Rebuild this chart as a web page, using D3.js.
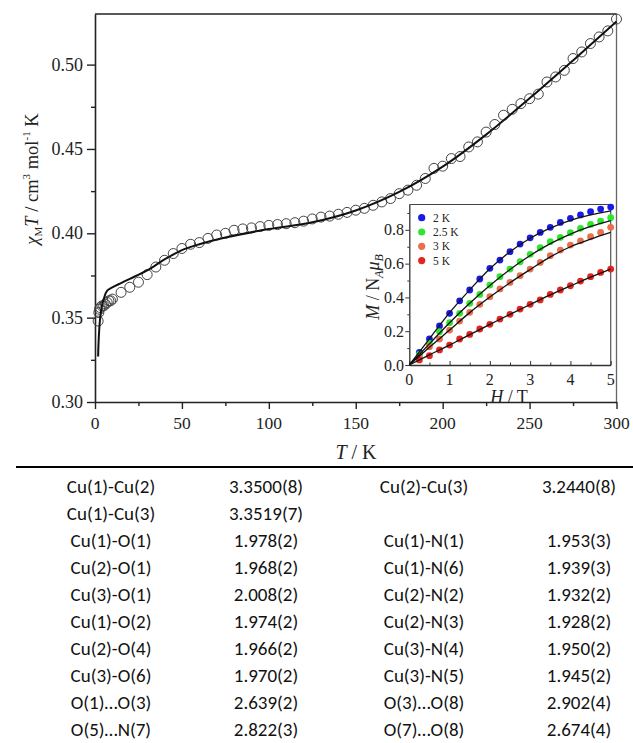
<!DOCTYPE html>
<html><head><meta charset="utf-8">
<script src="https://cdn.jsdelivr.net/npm/d3@7"></script>
<style>body{margin:0;background:#fff}svg{display:block}</style>
</head><body><svg id="c" width="633" height="743"></svg>
<script>
// ---------- main chart data ----------
const tempK = [1.8, 2.2, 2.6, 3, 4, 5, 6, 7, 8, 9, 10,
  15, 20, 25, 30, 35, 40, 45, 50, 55, 60, 65, 70, 75, 80, 85, 90, 95, 100,
  105, 110, 115, 120, 125, 130, 135, 140, 145, 150, 155, 160, 165, 170, 175, 180,
  185, 190, 195, 200, 205, 210, 215, 220, 225, 230, 235, 240, 245, 250, 255, 260,
  265, 270, 275, 280, 285, 290, 295, 300];
const chiMT = [0.348, 0.353, 0.355, 0.356, 0.357, 0.357, 0.358, 0.359, 0.360, 0.360, 0.361,
  0.365, 0.368, 0.371, 0.3755, 0.380, 0.384, 0.388, 0.391, 0.3935, 0.3945, 0.397, 0.399, 0.400, 0.4018, 0.4026, 0.4032, 0.404, 0.4047,
  0.4052, 0.4057, 0.4063, 0.4072, 0.4085, 0.4096, 0.4102, 0.4113, 0.4124, 0.4137, 0.4148, 0.4166, 0.4186, 0.4206, 0.4235, 0.4256,
  0.4285, 0.4325, 0.4385, 0.4398, 0.4443, 0.4455, 0.4512, 0.4542, 0.460, 0.4645, 0.470, 0.4735, 0.4769, 0.4798, 0.4825, 0.4897,
  0.4927, 0.4966, 0.5036, 0.5075, 0.5125, 0.5164, 0.5200, 0.5270];
const fitT = [1.8, 2, 2.5, 3, 4, 5, 7, 10, 15, 20, 30, 40, 50, 60, 75, 100, 125, 150, 175, 200, 225, 250, 275, 300];
const fitChiMT = [0.327, 0.334, 0.344, 0.350, 0.357, 0.361, 0.366, 0.368, 0.3705, 0.373, 0.378, 0.3845, 0.390, 0.3935, 0.3975, 0.4025, 0.4065, 0.4135, 0.4245, 0.4395, 0.4585, 0.480, 0.5025, 0.5255];
const mainXTicks = [0, 50, 100, 150, 200, 250, 300];
const mainYTicks = [0.30, 0.35, 0.40, 0.45, 0.50];

// ---------- inset data ----------
const fieldH = [0.25, 0.5, 0.75, 1, 1.25, 1.5, 1.75, 2, 2.25, 2.5, 2.75, 3, 3.25, 3.5, 3.75, 4, 4.25, 4.5, 4.75, 5];
const mag2K  = [0.075, 0.154, 0.231, 0.306, 0.380, 0.444, 0.509, 0.572, 0.621, 0.671, 0.716, 0.753, 0.785, 0.815, 0.844, 0.868, 0.888, 0.907, 0.923, 0.935];
const mag25K = [0.063, 0.128, 0.197, 0.250, 0.306, 0.365, 0.418, 0.473, 0.523, 0.568, 0.611, 0.655, 0.694, 0.730, 0.755, 0.783, 0.809, 0.832, 0.852, 0.872];
const mag3K  = [0.050, 0.108, 0.154, 0.207, 0.260, 0.312, 0.359, 0.404, 0.450, 0.489, 0.529, 0.568, 0.607, 0.647, 0.680, 0.710, 0.735, 0.759, 0.785, 0.815];
const mag5K  = [0.030, 0.055, 0.089, 0.118, 0.154, 0.181, 0.213, 0.241, 0.272, 0.300, 0.331, 0.359, 0.385, 0.418, 0.444, 0.469, 0.497, 0.523, 0.548, 0.568];
const fitH = [0, 0.5, 1, 1.5, 2, 2.5, 3, 3.5, 4, 4.5, 5];
const fit2K  = [0, 0.155, 0.310, 0.445, 0.570, 0.670, 0.750, 0.810, 0.856, 0.888, 0.912];
const fit25K = [0, 0.125, 0.250, 0.365, 0.470, 0.565, 0.648, 0.718, 0.775, 0.820, 0.855];
const fit3K  = [0, 0.105, 0.207, 0.310, 0.402, 0.487, 0.565, 0.640, 0.700, 0.745, 0.785];
const fit5K  = [0, 0.060, 0.118, 0.180, 0.240, 0.300, 0.358, 0.415, 0.468, 0.520, 0.568];
const seriesLabels = ["2 K", "2.5 K", "3 K", "5 K"];
const seriesColors = ["#1a1ae6", "#2ee62e", "#e8704e", "#e3241f"];
const insetXTicks = [0, 1, 2, 3, 4, 5];
const insetYTicks = [0.0, 0.2, 0.4, 0.6, 0.8];

// ---------- table data ----------
const bondA = ["Cu(1)-Cu(2)", "Cu(1)-Cu(3)", "Cu(1)-O(1)", "Cu(2)-O(1)", "Cu(3)-O(1)", "Cu(1)-O(2)", "Cu(2)-O(4)", "Cu(3)-O(6)", "O(1)…O(3)", "O(5)…N(7)"];
const distA = ["3.3500(8)", "3.3519(7)", "1.978(2)", "1.968(2)", "2.008(2)", "1.974(2)", "1.966(2)", "1.970(2)", "2.639(2)", "2.822(3)"];
const bondB = ["Cu(2)-Cu(3)", "", "Cu(1)-N(1)", "Cu(1)-N(6)", "Cu(2)-N(2)", "Cu(2)-N(3)", "Cu(3)-N(4)", "Cu(3)-N(5)", "O(3)…O(8)", "O(7)…O(8)"];
const distB = ["3.2440(8)", "", "1.953(3)", "1.939(3)", "1.932(2)", "1.928(2)", "1.950(2)", "1.945(2)", "2.902(4)", "2.674(4)"];

// ---------- drawing ----------
const svg = d3.select("#c");
const serif = "'Liberation Serif','DejaVu Serif','Times New Roman',serif";

// main chart
const L = 95, R = 616.5, T0 = 14, B = 402;
const x = d3.scaleLinear().domain([0, 300]).range([L, R]);
const y = d3.scaleLinear().domain([0.30, 0.53]).range([B, T0]);
const main = svg.append("g");

main.append("line").attr("x1", L).attr("x2", R).attr("y1", T0).attr("y2", T0).attr("stroke", "#222").attr("stroke-width", 1.6);
main.append("line").attr("x1", R).attr("x2", R).attr("y1", T0).attr("y2", B).attr("stroke", "#666").attr("stroke-width", 1.3);

// x axis
const xAxisG = main.append("g").attr("transform", `translate(0,${B})`);
xAxisG.call(d3.axisBottom(x).tickValues(d3.range(0, 301, 25)).tickSize(0).tickFormat(""));
xAxisG.select(".domain").attr("stroke", "#222").attr("stroke-width", 1.6);
xAxisG.selectAll(".tick").append("line").attr("y1", 0).attr("y2", d => d % 50 === 0 ? 7 : 4).attr("stroke", "#222").attr("stroke-width", 1.4);
mainXTicks.forEach(v => {
  main.append("text").attr("x", x(v)).attr("y", 429).attr("text-anchor", "middle")
    .attr("font-family", serif).attr("font-size", 17.5).attr("fill", "#222").text(v);
});

// y axis
const yAxisG = main.append("g").attr("transform", `translate(${L},0)`);
yAxisG.call(d3.axisLeft(y).tickValues(d3.range(0, 9).map(i => 0.30 + i * 0.025)).tickSize(0).tickFormat(""));
yAxisG.select(".domain").attr("stroke", "#222").attr("stroke-width", 1.6);
yAxisG.selectAll(".tick").append("line").attr("x1", 0).attr("x2", (d, i) => i % 2 === 0 ? -8 : -4).attr("stroke", "#222").attr("stroke-width", 1.4);
mainYTicks.forEach(v => {
  main.append("text").attr("x", 83).attr("y", y(v) + 6).attr("text-anchor", "end")
    .attr("font-family", serif).attr("font-size", 18).attr("fill", "#222").text(v.toFixed(2));
});

// axis labels
const xl = main.append("text").attr("x", 356).attr("y", 459).attr("text-anchor", "middle")
  .attr("font-family", serif).attr("font-size", 20).attr("fill", "#222");
xl.append("tspan").attr("font-style", "italic").text("T");
xl.append("tspan").text(" / K");

const yl = main.append("text").attr("transform", "translate(38,179) rotate(-90)").attr("text-anchor", "middle")
  .attr("font-family", serif).attr("font-size", 18.5).attr("fill", "#222");
yl.append("tspan").attr("font-style", "italic").text("χ");
yl.append("tspan").attr("font-size", 11).attr("dy", 4).text("M");
yl.append("tspan").attr("font-style", "italic").attr("dy", -4).text("T");
yl.append("tspan").text(" / cm");
yl.append("tspan").attr("font-size", 11).attr("dy", -8).text("3");
yl.append("tspan").attr("dy", 8).text(" mol");
yl.append("tspan").attr("font-size", 11).attr("dy", -8).text("-1");
yl.append("tspan").attr("dy", 8).text(" K");

// data circles
main.append("g").selectAll("circle").data(tempK.map((t, i) => [t, chiMT[i]])).join("circle")
  .attr("cx", d => x(d[0])).attr("cy", d => y(d[1])).attr("r", 5)
  .attr("fill", "none").attr("stroke", "#444").attr("stroke-width", 1);

// fit line
main.append("path").datum(fitT.map((t, i) => [t, fitChiMT[i]]))
  .attr("d", d3.line().x(d => x(d[0])).y(d => y(d[1])).curve(d3.curveCatmullRom.alpha(0.5)))
  .attr("fill", "none").attr("stroke", "#111").attr("stroke-width", 2);

// ---------- inset ----------
const iL = 409.3, iR = 610.7, iT = 204.5, iB = 365;
const ix = d3.scaleLinear().domain([0, 5]).range([iL, iR]);
const iy = d3.scaleLinear().domain([0, 0.95]).range([iB, iT]);
const ins = svg.append("g");
ins.append("rect").attr("x", iL).attr("y", iT).attr("width", iR - iL).attr("height", iB - iT).attr("fill", "#fff");
ins.append("line").attr("x1", iL).attr("x2", iR).attr("y1", iT).attr("y2", iT).attr("stroke", "#444").attr("stroke-width", 1.2);
ins.append("line").attr("x1", iR).attr("x2", iR).attr("y1", iT).attr("y2", iB).attr("stroke", "#555").attr("stroke-width", 1.2);

const ixAxis = ins.append("g").attr("transform", `translate(0,${iB})`);
ixAxis.call(d3.axisBottom(ix).tickValues(d3.range(0, 11).map(i => i * 0.5)).tickSize(0).tickFormat(""));
ixAxis.select(".domain").attr("stroke", "#333").attr("stroke-width", 1.3);
ixAxis.selectAll(".tick").append("line").attr("y1", 0).attr("y2", (d, i) => i % 2 === 0 ? -4 : -2.5).attr("stroke", "#333");
insetXTicks.forEach(v => {
  ins.append("text").attr("x", ix(v)).attr("y", 385).attr("text-anchor", "middle")
    .attr("font-family", serif).attr("font-size", 16).attr("fill", "#222").text(v);
});
const iyAxis = ins.append("g").attr("transform", `translate(${iL},0)`);
iyAxis.call(d3.axisLeft(iy).tickValues(d3.range(0, 10).map(i => i * 0.1)).tickSize(0).tickFormat(""));
iyAxis.select(".domain").attr("stroke", "#333").attr("stroke-width", 1.3);
iyAxis.selectAll(".tick").append("line").attr("x1", 0).attr("x2", (d, i) => i % 2 === 0 ? -4 : -2).attr("stroke", "#333");
insetYTicks.forEach(v => {
  ins.append("text").attr("x", 404).attr("y", iy(v) + 5.5).attr("text-anchor", "end")
    .attr("font-family", serif).attr("font-size", 16).attr("fill", "#222").text(v.toFixed(1));
});

const ixl = ins.append("text").attr("x", 509).attr("y", 403).attr("text-anchor", "middle")
  .attr("font-family", serif).attr("font-size", 18).attr("fill", "#222");
ixl.append("tspan").attr("font-style", "italic").text("H");
ixl.append("tspan").text(" / T");

const iyl = ins.append("text").attr("transform", "translate(379,287) rotate(-90)").attr("text-anchor", "middle")
  .attr("font-family", serif).attr("font-size", 18).attr("fill", "#222");
iyl.append("tspan").attr("font-style", "italic").text("M");
iyl.append("tspan").text(" / N");
iyl.append("tspan").attr("font-size", 12).attr("font-style", "italic").attr("dy", 4).text("A");
iyl.append("tspan").attr("font-style", "italic").attr("dy", -4).text("μ");
iyl.append("tspan").attr("font-size", 12).attr("font-style", "italic").attr("dy", 4).text("B");

const magSeries = [mag2K, mag25K, mag3K, mag5K];
const fitSeries = [fit2K, fit25K, fit3K, fit5K];
const fitLine = d3.line().x(d => ix(d[0])).y(d => iy(d[1])).curve(d3.curveMonotoneX);
magSeries.forEach((s, k) => {
  ins.append("g").selectAll("circle").data(fieldH.map((h, i) => [h, s[i]])).join("circle")
    .attr("cx", d => ix(d[0])).attr("cy", d => iy(d[1])).attr("r", 3.4).attr("fill", seriesColors[k]);
});
fitSeries.forEach(s => {
  ins.append("path").datum(fitH.map((h, i) => [h, s[i]])).attr("d", fitLine)
    .attr("fill", "none").attr("stroke", "#111").attr("stroke-width", 1.3);
});

// legend
seriesLabels.forEach((lab, k) => {
  const ly = 217.7 + k * 14.3;
  ins.append("circle").attr("cx", 421.7).attr("cy", ly).attr("r", 3.6).attr("fill", seriesColors[k]);
  ins.append("text").attr("x", 433).attr("y", ly + 4).attr("font-family", serif).attr("font-size", 11.5)
    .attr("fill", "#222").text(lab);
});

// ---------- table ----------
svg.append("line").attr("x1", 16).attr("x2", 633).attr("y1", 467).attr("y2", 467).attr("stroke", "#000").attr("stroke-width", 2);
const colX = [111, 266, 424, 579];
const cols = [bondA, distA, bondB, distB];
const sans = "Carlito, Lato, 'Open Sans', sans-serif";
cols.forEach((col, c) => {
  col.forEach((txt, r) => {
    if (!txt) return;
    svg.append("text").attr("x", colX[c]).attr("y", 486 + r * 27.0).attr("dy", "0.35em")
      .attr("text-anchor", "middle").attr("font-family", sans).attr("font-size", 19)
      .attr("fill", "#111").text(txt);
  });
});
</script>
</body></html>
